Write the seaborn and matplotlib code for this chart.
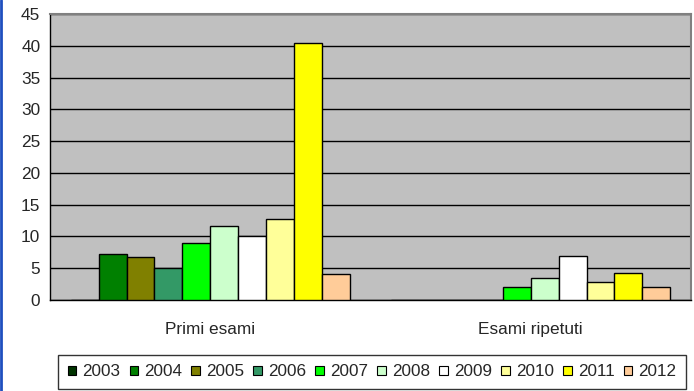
import numpy as np
import pandas as pd
import matplotlib
matplotlib.use("Agg")
import matplotlib.pyplot as plt
from matplotlib.lines import Line2D
import seaborn as sns

# dati
categorie = ["Primi esami", "Esami ripetuti"]
anni = ["2003", "2004", "2005", "2006", "2007", "2008", "2009", "2010", "2011", "2012"]
primi_esami = [0, 7.2, 6.8, 5.0, 9.0, 11.6, 10.0, 12.7, 40.5, 4.1]
esami_ripetuti = [0, 0, 0, 0, 2.1, 3.5, 6.9, 2.8, 4.3, 2.1]
colori = ["#003300", "#008000", "#808000", "#339966", "#00FF00",
          "#CCFFCC", "#FFFFFF", "#FFFF99", "#FFFF00", "#FFCC99"]

df = pd.DataFrame({
    "categoria": [categorie[0]] * len(anni) + [categorie[1]] * len(anni),
    "anno": anni + anni,
    "valore": primi_esami + esami_ripetuti,
})

sns.set_style("white")
plt.rcParams['font.family'] = ['Liberation Sans', 'DejaVu Sans']

fig = plt.figure(figsize=(6.94, 3.91), dpi=100)
ax = fig.add_axes([50 / 694, 1 - 300 / 391, 641 / 694, 286 / 391])
ax.set_facecolor("#C0C0C0")

sns.barplot(data=df, x="categoria", y="valore", hue="anno", hue_order=anni,
            palette=colori, width=0.87, edgecolor="black", linewidth=1,
            saturation=1, ax=ax, zorder=3)

ax.set_ylim(0, 45)
ax.set_yticks(np.arange(0, 46, 5))
ax.set_xlim(-0.5, 1.5)
ax.yaxis.grid(True, color="black", linewidth=1, zorder=0)
ax.set_axisbelow(True)

# tick delle categorie ai bordi, etichette al centro
ax.set_xticks([-0.5, 0.5, 1.5])
ax.set_xticklabels(["", "", ""])
ax.set_xticks([0, 1], minor=True)
ax.set_xticklabels(categorie, minor=True, fontsize=12.4)
ax.tick_params(axis="x", which="major", direction="out", length=5, color="black", width=1)
ax.tick_params(axis="x", which="minor", length=0, pad=16)
ax.tick_params(axis="y", direction="out", length=5, color="black", width=1, labelsize=12.4, pad=2)
ax.set_xlabel("")
ax.set_ylabel("")

for s in ["left", "bottom"]:
    ax.spines[s].set_color("black")
    ax.spines[s].set_linewidth(1)
for s in ["top", "right"]:
    ax.spines[s].set_color("#808080")
    ax.spines[s].set_linewidth(1.5)

ax.get_legend().remove()
handles = [plt.Rectangle((0, 0), 1, 1, facecolor=c, edgecolor="black", linewidth=0.8) for c in colori]
leg = fig.legend(handles, anni, loc="center", bbox_to_anchor=(372 / 694, 1 - 372 / 391),
                 ncol=10, frameon=True, fontsize=12.3, handlelength=0.5, handleheight=0.5,
                 handletextpad=0.35, columnspacing=0.55, borderpad=0.55, borderaxespad=0,
                 fancybox=False)
leg.get_frame().set_edgecolor("black")
leg.get_frame().set_linewidth(1)

# bordo blu a sinistra
fig.add_artist(Line2D([0.002, 0.002], [0, 1], color="#1f4fbf", linewidth=2, transform=fig.transFigure))

fig.savefig("out.png", dpi=100)
